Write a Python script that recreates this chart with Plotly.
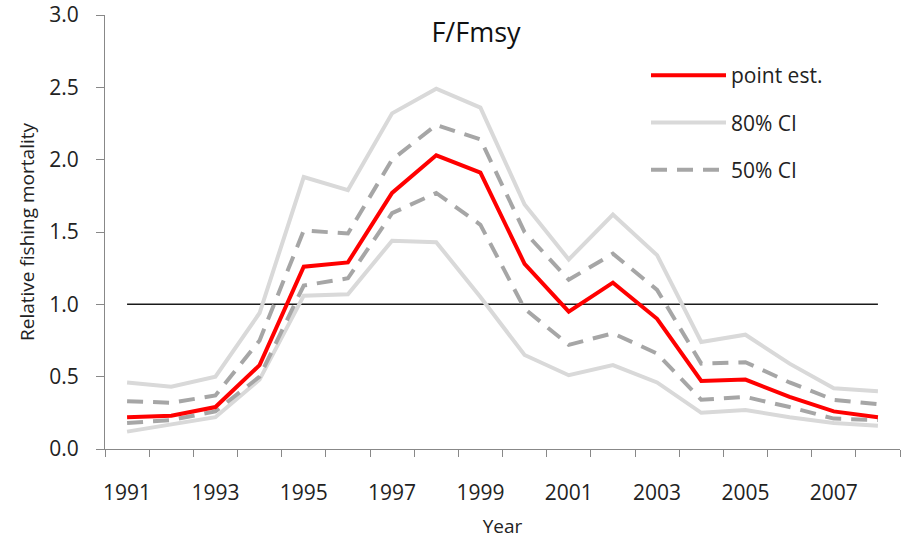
import plotly.graph_objects as go

years = list(range(1991, 2009))
point_est = [0.22, 0.23, 0.29, 0.58, 1.26, 1.29, 1.77, 2.03, 1.91, 1.28, 0.95, 1.15, 0.90, 0.47, 0.48, 0.36, 0.26, 0.22]
ci80_upper = [0.46, 0.43, 0.50, 0.94, 1.88, 1.79, 2.32, 2.49, 2.36, 1.69, 1.31, 1.62, 1.34, 0.74, 0.79, 0.59, 0.42, 0.40]
ci80_lower = [0.12, 0.17, 0.22, 0.48, 1.06, 1.07, 1.44, 1.43, 1.05, 0.65, 0.51, 0.58, 0.46, 0.25, 0.27, 0.22, 0.18, 0.16]
ci50_upper = [0.33, 0.32, 0.37, 0.75, 1.51, 1.49, 2.00, 2.24, 2.14, 1.50, 1.17, 1.35, 1.10, 0.59, 0.60, 0.46, 0.34, 0.31]
ci50_lower = [0.18, 0.20, 0.26, 0.50, 1.13, 1.18, 1.63, 1.77, 1.55, 0.97, 0.72, 0.80, 0.66, 0.34, 0.36, 0.29, 0.21, 0.20]
reference = [1.0] * len(years)
label_years = list(range(1991, 2008, 2))

FONT = "Open Sans"
TXT = "#222222"

fig = go.Figure()

# reference line at F/Fmsy = 1
fig.add_trace(go.Scatter(x=years, y=reference, mode="lines",
                         line=dict(color="#1a1a1a", width=1.5),
                         showlegend=False, hoverinfo="skip"))
# 80% CI
fig.add_trace(go.Scatter(x=years, y=ci80_upper, mode="lines", name="80% CI",
                         line=dict(color="#D9D9D9", width=4),
                         legendgroup="g80", legendrank=2))
fig.add_trace(go.Scatter(x=years, y=ci80_lower, mode="lines", name="80% CI",
                         line=dict(color="#D9D9D9", width=4),
                         legendgroup="g80", showlegend=False))
# 50% CI
fig.add_trace(go.Scatter(x=years, y=ci50_upper, mode="lines", name="50% CI",
                         line=dict(color="#A6A6A6", width=4, dash="16px,10px"),
                         legendgroup="g50", legendrank=3))
fig.add_trace(go.Scatter(x=years, y=ci50_lower, mode="lines", name="50% CI",
                         line=dict(color="#A6A6A6", width=4, dash="16px,10px"),
                         legendgroup="g50", showlegend=False))
# point estimate
fig.add_trace(go.Scatter(x=years, y=point_est, mode="lines", name="point est.",
                         line=dict(color="#FF0000", width=4),
                         legendgroup="gpt", legendrank=1))

fig.update_layout(
    width=902, height=542,
    margin=dict(l=105, r=2, t=15, b=93),
    plot_bgcolor="white", paper_bgcolor="white",
    font=dict(family=FONT, size=20, color=TXT),
    title=dict(text="F/Fmsy", x=476 / 902, xanchor="center",
               y=1 - 33 / 542, yanchor="middle", yref="container",
               font=dict(family=FONT, size=27, color="#111111")),
    legend=dict(x=(646 - 105) / 795, y=1 - (55 - 15) / 434, xanchor="left", yanchor="top",
                bgcolor="rgba(0,0,0,0)", font=dict(family=FONT, size=21, color=TXT),
                tracegroupgap=17, itemwidth=75, traceorder="grouped"),
    xaxis=dict(
        range=[1990.5, 2008.5], showgrid=False, zeroline=False, automargin=False,
        showline=True, linecolor="#888888", linewidth=1,
        tickmode="array", tickvals=label_years, ticktext=[str(y) for y in label_years],
        ticks="", ticklabelstandoff=25, ticklabeloverflow="allow",
        minor=dict(tickmode="linear", tick0=1990.5, dtick=1, ticks="outside",
                   ticklen=7, tickcolor="#888888", showgrid=False),
        title=dict(text="Year", standoff=14, font=dict(family=FONT, size=19, color=TXT)),
        tickfont=dict(family=FONT, size=21, color=TXT),
    ),
    yaxis=dict(
        range=[0, 3.0], showgrid=False, zeroline=False, automargin=False,
        showline=True, linecolor="#888888", linewidth=1,
        tickmode="linear", tick0=0, dtick=0.5, tickformat=".1f",
        ticks="outside", ticklen=8, tickcolor="#888888", ticklabelstandoff=13,
        ticklabeloverflow="allow",
        title=dict(text="Relative fishing mortality", standoff=9,
                   font=dict(family=FONT, size=19, color=TXT)),
        tickfont=dict(family=FONT, size=21, color=TXT),
    ),
)

fig.write_html("out.html", config={"displayModeBar": False},
               post_script="document.body.style.margin='0px';")
